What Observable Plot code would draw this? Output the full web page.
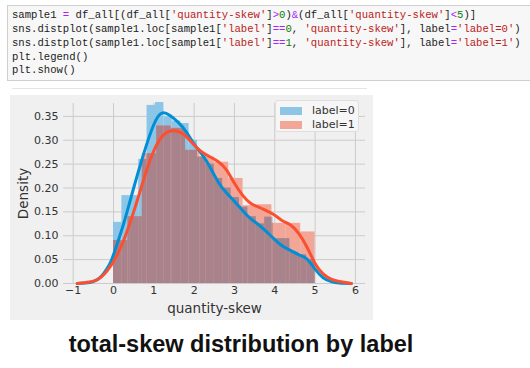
<!DOCTYPE html>
<html>
<head>
<meta charset="utf-8">
<script src="https://cdn.jsdelivr.net/npm/d3@7"></script>
<script src="https://cdn.jsdelivr.net/npm/@observablehq/plot@0.6"></script>
<style>
  html, body { margin: 0; padding: 0; background: #ffffff; }
  #page { position: relative; width: 530px; height: 368px; overflow: hidden; background: #fff; }
  #code { position: absolute; left: 7px; top: 5px; width: 540px; height: 76px; box-sizing: border-box;
          border: 1px solid #cfcfcf; background: #f7f7f7; }
  .cl { position: absolute; left: 4px; height: 13px; font-family: "Liberation Mono", monospace; font-size: 10.6px;
        line-height: 13px; white-space: pre; }
  .cl span { color: #222; }
  .cl span.s { color: #ba2121; } .cl span.n { color: #008000; } .cl span.o { color: #aa22ff; }
  #sep { position: absolute; left: 12px; top: 88px; width: 355px; height: 1px; background: #e4e4e4; }
  #chart { position: absolute; left: 10px; top: 95px; }
  #legend { position: absolute; left: 275px; top: 100px; width: 84px; height: 32px; box-sizing: border-box;
            background: #f6f6f6; border: 1px solid #dedede; border-radius: 3px;
            font-family: "DejaVu Sans", sans-serif; font-size: 11px; color: #333; }
  .li { position: absolute; left: 4px; height: 12px; }
  .sw { position: absolute; left: 0; top: 2px; width: 22px; height: 8px; }
  .lt { position: absolute; left: 32px; top: -1px; white-space: nowrap; line-height: 14px; }
  #caption { position: absolute; left: 0; top: 330px; width: 482px; text-align: center;
             font-family: "Liberation Sans", Arial, sans-serif; font-weight: bold; font-size: 23.5px;
             line-height: 28px; color: #111; }
</style>
</head>
<body>
<div id="page">
  <div id="code"></div>
  <div id="sep"></div>
  <div id="chart"></div>
  <div id="legend">
    <div class="li" style="top:4px"><div class="sw" style="background:#8cc5e5"></div><div class="lt">label=0</div></div>
    <div class="li" style="top:18px"><div class="sw" style="background:#f2a698"></div><div class="lt">label=1</div></div>
  </div>
  <div id="caption">total-skew distribution by label</div>
</div>
<script>
// ---- code cell text (token, style) ----
const codeLines = [
  [["sample1 ", ""], ["=", "o"], [" df_all[(df_all[", ""], ["'quantity-skew'", "s"], ["]", ""], [">", "o"], ["0", "n"],
   [")", ""], ["&", "o"], ["(df_all[", ""], ["'quantity-skew'", "s"], ["]", ""], ["<", "o"], ["5", "n"], [")]", ""]],
  [["sns.distplot(sample1.loc[sample1[", ""], ["'label'", "s"], ["]", ""], ["==", "o"], ["0", "n"], [", ", ""],
   ["'quantity-skew'", "s"], ["], label", ""], ["=", "o"], ["'label=0'", "s"], [")", ""]],
  [["sns.distplot(sample1.loc[sample1[", ""], ["'label'", "s"], ["]", ""], ["==", "o"], ["1", "n"], [", ", ""],
   ["'quantity-skew'", "s"], ["], label", ""], ["=", "o"], ["'label=1'", "s"], [")", ""]],
  [["plt.legend()", ""]],
  [["plt.show()", ""]]
];

// ---- data ----
const seriesLabels = ["label=0", "label=1"];

// label=0 histogram (density), 24 bins over 0..5
const blueEdges = [0, 0.208, 0.417, 0.625, 0.833, 1.042, 1.25, 1.458, 1.667, 1.875, 2.083, 2.292, 2.5,
                   2.708, 2.917, 3.125, 3.333, 3.542, 3.75, 3.958, 4.167, 4.375, 4.583, 4.792, 5.0];
const blueHeights = [0.128, 0.184, 0.184, 0.26, 0.373, 0.379, 0.35, 0.34, 0.335, 0.30, 0.265, 0.25, 0.22,
                     0.2, 0.18, 0.16, 0.14, 0.125, 0.139, 0.094, 0.094, 0.065, 0.06, 0.05];

// label=1 histogram (density), 14 bins over 0..5
const redEdges = [0, 0.357, 0.714, 1.071, 1.429, 1.786, 2.143, 2.5, 2.857, 3.214, 3.571, 3.929, 4.286, 4.643, 5.0];
const redHeights = [0.09, 0.14, 0.272, 0.33, 0.325, 0.279, 0.265, 0.254, 0.22, 0.163, 0.165, 0.126, 0.126, 0.108];

// KDE curves
const blueKdeX = [-0.9, -0.7, -0.5, -0.3, -0.1, 0, 0.25, 0.5, 0.75, 1.0, 1.2, 1.4, 1.6, 1.8, 2.0, 2.2, 2.4, 2.6,
                  2.8, 3.0, 3.2, 3.4, 3.6, 3.8, 4.0, 4.2, 4.4, 4.6, 4.8, 5.0, 5.2, 5.4, 5.6, 5.9];
const blueKdeY = [0, 0.001, 0.004, 0.015, 0.04, 0.06, 0.125, 0.2, 0.272, 0.333, 0.357, 0.352, 0.338, 0.318, 0.292,
                  0.27, 0.243, 0.212, 0.19, 0.172, 0.153, 0.136, 0.123, 0.108, 0.092, 0.078, 0.069, 0.06, 0.051,
                  0.03, 0.012, 0.004, 0.001, 0];
const redKdeX = [-0.9, -0.6, -0.3, 0, 0.25, 0.5, 0.75, 1.0, 1.25, 1.5, 1.75, 2.0, 2.2, 2.4, 2.6, 2.8, 3.0, 3.2,
                 3.4, 3.6, 3.8, 4.0, 4.2, 4.4, 4.6, 4.8, 5.0, 5.2, 5.4, 5.6, 5.9];
const redKdeY = [0, 0.003, 0.014, 0.046, 0.09, 0.15, 0.218, 0.278, 0.312, 0.32, 0.312, 0.29, 0.275, 0.265, 0.255,
                 0.238, 0.21, 0.185, 0.168, 0.16, 0.152, 0.143, 0.131, 0.122, 0.104, 0.076, 0.042, 0.02, 0.009,
                 0.004, 0];

const xTicks = [-1, 0, 1, 2, 3, 4, 5, 6];
const yTicks = [0, 0.05, 0.10, 0.15, 0.20, 0.25, 0.30, 0.35];

// ---- code cell ----
const codeEl = document.getElementById("code");
codeLines.forEach((tokens, i) => {
  const line = document.createElement("div");
  line.className = "cl";
  line.style.top = (3.2 + i * 13.8) + "px";
  for (const [t, c] of tokens) {
    const sp = document.createElement("span");
    if (c) sp.className = c;
    sp.textContent = t;
    line.appendChild(sp);
  }
  codeEl.appendChild(line);
});

// ---- tables ----
const blueBins = blueHeights.map((y, i) => ({x1: blueEdges[i], x2: blueEdges[i + 1], y}));
const redBins = redHeights.map((y, i) => ({x1: redEdges[i], x2: redEdges[i + 1], y}));
const overlap = [];
for (const b of blueBins) for (const r of redBins) {
  const lo = Math.max(b.x1, r.x1), hi = Math.min(b.x2, r.x2);
  if (hi > lo) overlap.push({x1: lo, x2: hi, y: Math.min(b.y, r.y)});
}
const blueKde = blueKdeX.map((x, i) => ({x, y: blueKdeY[i]}));
const redKde = redKdeX.map((x, i) => ({x, y: redKdeY[i]}));

const chart = Plot.plot({
  width: 363,
  height: 225,
  marginLeft: 53,
  marginRight: 8,
  marginTop: 8,
  marginBottom: 37,
  style: {background: "#f0f0f0", fontFamily: "DejaVu Sans, sans-serif", fontSize: "11px", color: "#333"},
  x: {domain: [-1.24, 6.25], label: null},
  y: {domain: [0, 0.377], label: null},
  marks: [
    Plot.gridX(xTicks, {stroke: "#cbcbcb", strokeOpacity: 1, strokeWidth: 1}),
    Plot.gridY(yTicks, {stroke: "#cbcbcb", strokeOpacity: 1, strokeWidth: 1}),
    Plot.rect(blueBins, {x1: "x1", x2: "x2", y1: 0, y2: "y", fill: "#8cc5e5"}),
    Plot.rect(redBins, {x1: "x1", x2: "x2", y1: 0, y2: "y", fill: "#f2a698"}),
    Plot.rect(overlap, {x1: "x1", x2: "x2", y1: 0, y2: "y", fill: "#a9838b"}),
    Plot.line(blueKde, {x: "x", y: "y", stroke: "#008fd5", strokeWidth: 3, curve: "natural"}),
    Plot.line(redKde, {x: "x", y: "y", stroke: "#fc4f30", strokeWidth: 3, curve: "natural"}),
    Plot.axisX(xTicks, {tickSize: 0, tickPadding: 3, tickFormat: d => d < 0 ? "\u2212" + Math.abs(d) : String(d),
      label: "quantity-skew", labelAnchor: "center", labelArrow: "none", labelOffset: 29, fontSize: 11}),
    Plot.axisY(yTicks, {tickSize: 0, tickPadding: 5, tickFormat: d3.format(".2f"),
      label: "Density", labelAnchor: "center", labelArrow: "none", labelOffset: 45, fontSize: 11})
  ]
});
chart.querySelectorAll("[aria-label='x-axis label'] text, [aria-label='y-axis label'] text").forEach(t => t.setAttribute("font-size", "13.5px"));
document.getElementById("chart").appendChild(chart);
</script>
</body>
</html>
